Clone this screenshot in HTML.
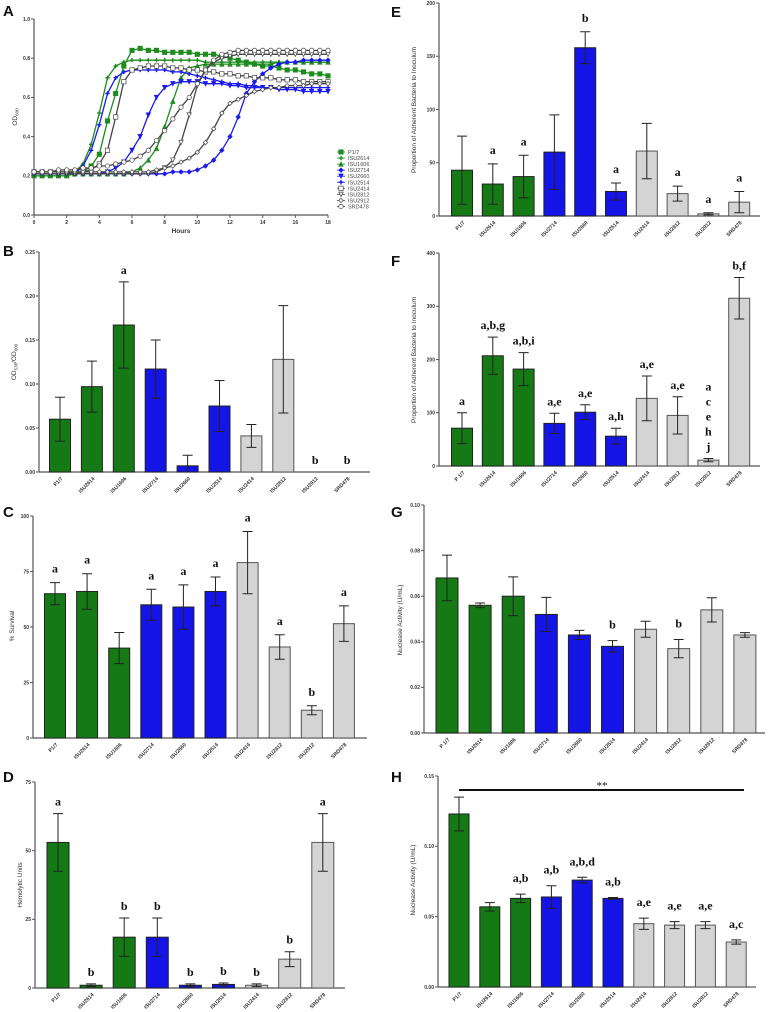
<!DOCTYPE html>
<html><head><meta charset="utf-8"><style>
html,body{margin:0;padding:0;background:#fff;}
svg{display:block;font-family:"Liberation Sans",sans-serif;}
</style></head><body>
<svg id="fig" width="770" height="1012" viewBox="0 0 770 1012" xmlns="http://www.w3.org/2000/svg"></svg>
<script>
// ===== Panel A data (OD600 every 0.5 h, 0..18 h) =====
const hourTicks = [0,2,4,6,8,10,12,14,16,18];
const odTicks = ["0.0","0.2","0.4","0.6","0.8","1.0"];
const seriesNames = ["P1/7","ISU2614","ISU1606","ISU2714","ISU2660","ISU2514","ISU2414","ISU2812","ISU2912","SRD478"];
const sP17 = [.20,.20,.20,.20,.20,.21,.22,.25,.31,.48,.62,.76,.84,.85,.84,.84,.83,.83,.83,.83,.82,.82,.82,.81,.80,.79,.78,.77,.76,.76,.75,.74,.74,.73,.72,.72,.71];
const s2614 = [.21,.21,.21,.21,.21,.22,.26,.36,.52,.70,.76,.78,.79,.79,.79,.79,.79,.79,.79,.79,.79,.78,.78,.78,.78,.78,.78,.78,.78,.78,.78,.78,.78,.78,.78,.78,.78];
const s1606 = [.21,.21,.21,.21,.21,.21,.21,.21,.21,.21,.21,.21,.22,.24,.28,.34,.45,.58,.70,.75,.76,.77,.77,.77,.77,.77,.77,.77,.77,.77,.78,.78,.78,.78,.78,.78,.78];
const s2714 = [.21,.21,.21,.21,.21,.21,.21,.21,.21,.21,.21,.21,.21,.21,.21,.21,.21,.22,.22,.22,.23,.25,.28,.33,.40,.50,.62,.68,.72,.75,.77,.78,.78,.79,.79,.79,.79];
const s2660 = [.21,.21,.21,.21,.21,.21,.21,.21,.21,.22,.24,.27,.33,.40,.51,.60,.65,.67,.68,.68,.68,.67,.67,.67,.66,.66,.65,.65,.65,.65,.64,.64,.64,.63,.63,.63,.63];
const s2514 = [.21,.21,.21,.21,.21,.21,.25,.33,.46,.62,.70,.73,.74,.74,.74,.74,.74,.73,.73,.72,.71,.70,.69,.68,.67,.67,.66,.66,.65,.65,.65,.65,.65,.65,.65,.65,.65];
const s2414 = [.22,.22,.22,.22,.22,.22,.22,.23,.26,.33,.50,.68,.74,.75,.76,.76,.76,.75,.75,.74,.74,.73,.73,.72,.72,.71,.71,.70,.70,.70,.69,.69,.69,.68,.68,.68,.68];
const s2812 = [.21,.21,.21,.21,.21,.21,.21,.21,.21,.21,.21,.21,.21,.21,.21,.22,.24,.28,.37,.51,.66,.74,.78,.80,.81,.82,.82,.82,.82,.82,.82,.82,.82,.82,.82,.82,.82];
const s2912 = [.22,.22,.22,.22,.22,.22,.22,.22,.22,.22,.22,.22,.22,.22,.22,.23,.24,.25,.27,.29,.32,.37,.44,.52,.57,.59,.61,.63,.64,.65,.65,.66,.66,.66,.67,.67,.67];
const sSRD = [.22,.22,.22,.23,.23,.23,.24,.24,.25,.25,.26,.27,.28,.30,.33,.38,.43,.49,.55,.60,.67,.74,.79,.82,.83,.84,.84,.84,.84,.84,.84,.84,.84,.84,.84,.84,.84];

// ===== Bar panel data =====
const cats10 = ["P1/7","ISU2614","ISU1606","ISU2714","ISU2660","ISU2514","ISU2414","ISU2812","ISU2912","SRD478"];
const catsD = ["P1/7","ISU2614","ISU1606","ISU2714","ISU2660","ISU2514","ISU2414","ISU2812","SRD478"];
const catsF = ["P 1/7","ISU2614","ISU1606","ISU2714","ISU2660","ISU2514","ISU2414","ISU2812","ISU2912","SRD478"];
const catsG = ["P 1/7","ISU2614","ISU1606","ISU2714","ISU2660","ISU2514","ISU2414","ISU2812","ISU2912","SRD478"];
const groups10 = ["g","g","g","b","b","b","w","w","w","w"];
const groupsD = ["g","g","g","b","b","b","w","w","w"];

const valsB = [0.060,0.097,0.167,0.117,0.007,0.075,0.041,0.128,0,0];
const errsB = [0.025,0.029,0.049,0.033,0.012,0.029,0.013,0.061,0,0];
const lettersB = ["","","a","","","","","","b","b"];
const ticksB = ["0.00","0.05","0.10","0.15","0.20","0.25"];

const valsC = [65,66,40.5,60,59,66,79,41,12.5,51.5];
const errsC = [5,8,7,7,10,6.5,14,5.5,2,8];
const lettersC = ["a","a","","a","a","a","a","a","b","a"];
const ticksC = ["0","25","50","75","100"];

const valsD = [53,1,18.5,18.5,1,1.3,1,10.5,53];
const errsD = [10.5,0.5,7,7,0.5,0.5,0.5,2.7,10.5];
const lettersD = ["a","b","b","b","b","b","b","b","a"];
const ticksD = ["0","25","50","75"];

const valsE = [43,30,37,60,158,23,61,21,2,13];
const errsE = [32,19,20,35,15,8,26,7,1,10];
const lettersE = ["","a","a","","b","a","","a","a","a"];
const ticksE = ["0","50","100","150","200"];

const valsF = [71,207,182,80,101,56,127,95,11,315];
const errsF = [29,35,31,19,14,15,42,35,3,39];
const lettersF = ["a","a,b,g","a,b,i","a,e","a,e","a,h","a,e","a,e","a|c|e|h|j","b,f"];
const ticksF = ["0","100","200","300","400"];

const valsG = [0.068,0.056,0.060,0.052,0.043,0.038,0.0455,0.037,0.054,0.043];
const errsG = [0.010,0.001,0.0085,0.0075,0.002,0.0025,0.0035,0.004,0.0053,0.001];
const lettersG = ["","","","","","b","","b","",""];
const ticksG = ["0.00","0.02","0.04","0.06","0.08","0.10"];

const valsH = [0.123,0.057,0.063,0.064,0.076,0.063,0.045,0.044,0.044,0.032];
const errsH = [0.012,0.003,0.003,0.008,0.002,0.0006,0.004,0.0025,0.0025,0.0015];
const lettersH = ["","","a,b","a,b","a,b,d","a,b","a,e","a,e","a,e","a,c"];
const ticksH = ["0.00","0.05","0.10","0.15"];

const NS = "http://www.w3.org/2000/svg";
const svg = document.getElementById("fig");
function mk(tag, attrs, parent){
  const e = document.createElementNS(NS, tag);
  for (const k in attrs) e.setAttribute(k, attrs[k]);
  (parent||svg).appendChild(e);
  return e;
}
const COL = {g:"#157a15", b:"#1414e6", w:"#d4d4d4"};
const AXC = "#555";

function panelLetter(t, x, y){
  const e = mk("text",{x:x,y:y,"font-size":15,"font-weight":"bold",fill:"#111"});
  e.textContent = t;
  
  
}
function yTitle(t, x, y, sub){
  const e = mk("text",{transform:`translate(${x},${y}) rotate(-90)`,"text-anchor":"middle","font-size":6.5,fill:"#333"});
  
  
  if (sub){
    sub.forEach(p=>{const ts=mk("tspan",p.s?{"font-size":4.5,dy:p.dy}:{dy:p.dy||0},e); ts.textContent=p.t;});
  } else e.textContent = t;
}

function barPanel(c){
  const g = mk("g",{});
  
  
  const n = c.vals.length;
  const yS = v => c.yBot - (v / c.max) * (c.yBot - c.yTop);
  const xS = i => c.x1 + i * c.dx;
  const ya = mk("line",{x1:c.x0,y1:c.yTop,x2:c.x0,y2:c.yBot,stroke:AXC,"stroke-width":1.2},g);
  
  
  const xa = mk("line",{x1:c.x0,y1:c.yBot,x2:c.xEnd,y2:c.yBot,stroke:AXC,"stroke-width":1.2},g);
  
  
  c.ticks.forEach((t,k)=>{
    const y = c.yBot - k*(c.yBot-c.yTop)/(c.ticks.length-1);
    mk("line",{x1:c.x0-3,y1:y,x2:c.x0,y2:y,stroke:AXC,"stroke-width":1},g);
    const tl = mk("text",{x:c.x0-4,y:y+1.8,"text-anchor":"end","font-size":5,fill:"#333","font-weight":"bold"},g);
    tl.textContent = t;
    
    
  });
  for (let i=0;i<n;i++){
    const cx = xS(i), v = c.vals[i], er = c.errs[i];
    const y = yS(v);
    if (v > 0){
      const r = mk("rect",{x:cx-c.bw/2,y:y,width:c.bw,height:c.yBot-y,fill:COL[c.groups[i]],stroke:c.groups[i]==="w"?"#555":"#222","stroke-width":1},g);
      
      
    }
    if (er > 0){
      const yt = yS(v+er), yb = yS(Math.max(0,v-er));
      const el = mk("path",{d:`M${cx},${yt}V${yb}M${cx-5},${yt}H${cx+5}M${cx-5},${yb}H${cx+5}`,stroke:"#222","stroke-width":1,fill:"none"},g);
      
      
    }
    const L = c.letters[i];
    if (L){
      const base = yS(v+er) - c.lgap;
      const lines = L.split("|");
      lines.forEach((ln,k)=>{
        const lt = mk("text",{x:cx,y:base-(lines.length-1-k)*15,"text-anchor":"middle","font-size":12,"font-weight":"bold","font-family":"Liberation Serif, serif",fill:"#111"},g);
        lt.textContent = ln;
        
        
      });
    }
    const cl = mk("text",{transform:`translate(${cx+3},${c.yBot+7}) rotate(-45)`,"text-anchor":"end","font-size":5.2,fill:"#333","font-weight":"bold"},g);
    cl.textContent = c.cats[i];
    
    
  }
}

// ===== Panel A =====
(function(){
  const x0=34, x1=328, yT=19, yB=215;
  const xS = h => x0 + h/18*(x1-x0);
  const yS = v => yB - v*(yB-yT);
  const g = mk("g",{});
  
  
  const ya = mk("line",{x1:x0,y1:yT,x2:x0,y2:yB,stroke:AXC,"stroke-width":1.2},g);
  
  
  const xa = mk("line",{x1:x0,y1:yB,x2:x1,y2:yB,stroke:AXC,"stroke-width":1.2},g);
  
  
  odTicks.forEach((t,k)=>{
    const y = yS(parseFloat(t));
    mk("line",{x1:x0-3,y1:y,x2:x0,y2:y,stroke:AXC},g);
    const tl = mk("text",{x:x0-4,y:y+1.8,"text-anchor":"end","font-size":5,fill:"#333","font-weight":"bold"},g);
    tl.textContent = t;
    
    
  });
  hourTicks.forEach(h=>{
    const x = xS(h);
    mk("line",{x1:x,y1:yB,x2:x,y2:yB+3,stroke:AXC},g);
    const tl = mk("text",{x:x,y:yB+9,"text-anchor":"middle","font-size":5,fill:"#333","font-weight":"bold"},g);
    tl.textContent = h;
    
    
  });
  const xt = mk("text",{x:181,y:233,"text-anchor":"middle","font-size":6.5,"font-weight":"bold",fill:"#333"},g);
  xt.textContent = "Hours";
  
  
  const all = [sP17,s2614,s1606,s2714,s2660,s2514,s2414,s2812,s2912,sSRD];
  const colors = ["#1c8c1c","#1c8c1c","#1c8c1c","#1a1aee","#1a1aee","#1a1aee","#444","#444","#444","#444"];
  const shapes = ["sq","plus","tri","dia","itri","star","osq","oitri","odia","ocirc"];
  function marker(par, sh, x, y, col){
    const open = sh[0]==="o";
    const fill = open ? "#fff" : col, st = col;
    const s = 2.2;
    let e;
    if (sh.endsWith("sq")) e = mk("rect",{x:x-s,y:y-s,width:2*s,height:2*s,fill,stroke:st,"stroke-width":0.7},par);
    else if (sh==="tri") e = mk("path",{d:`M${x},${y-s}L${x+s},${y+s}L${x-s},${y+s}Z`,fill,stroke:st,"stroke-width":0.7},par);
    else if (sh.endsWith("itri")) e = mk("path",{d:`M${x},${y+s}L${x+s},${y-s}L${x-s},${y-s}Z`,fill,stroke:st,"stroke-width":0.7},par);
    else if (sh.endsWith("dia")) e = mk("path",{d:`M${x},${y-s}L${x+s},${y}L${x},${y+s}L${x-s},${y}Z`,fill,stroke:st,"stroke-width":0.7},par);
    else if (sh==="ocirc") e = mk("circle",{cx:x,cy:y,r:s,fill,stroke:st,"stroke-width":0.7},par);
    else e = mk("path",{d:`M${x-s},${y}H${x+s}M${x},${y-s}V${y+s}`,stroke:st,"stroke-width":1.4,fill:"none"},par);
    return e;
  }
  all.forEach((arr,si)=>{
    const sg = mk("g",{},g);
    
    
    const pts = arr.map((v,i)=>`${xS(i*0.5).toFixed(1)},${yS(v).toFixed(1)}`).join(" ");
    mk("polyline",{points:pts,fill:"none",stroke:colors[si],"stroke-width":1.3},sg);
    arr.forEach((v,i)=>{ marker(sg, shapes[si], xS(i*0.5), yS(v), colors[si]); });
    const ly = 152 + si*6.05;
    const lg = mk("g",{},g);
    
    
    mk("line",{x1:337,y1:ly,x2:345,y2:ly,stroke:colors[si],"stroke-width":0.8},lg);
    marker(lg, shapes[si], 341, ly, colors[si]);
    const lt = mk("text",{x:348,y:ly+2,"font-size":5.5,fill:"#444"},lg);
    lt.textContent = seriesNames[si];
  });
})();
panelLetter("A",3,16);
yTitle("", 17, 117, [{t:"OD"},{t:"600",s:1,dy:1.5}]);

barPanel({id:"b",x0:39,xEnd:370,yTop:252,yBot:472,max:0.25,ticks:ticksB,x1:60,dx:31.9,bw:21,cats:cats10,groups:groups10,vals:valsB,errs:errsB,letters:lettersB,lgap:8});
panelLetter("B",3,256);
yTitle("", 16, 362, [{t:"OD"},{t:"538",s:1,dy:1.5},{t:"/OD",dy:-1.5},{t:"600",s:1,dy:1.5}]);

barPanel({id:"c",x0:33,xEnd:367,yTop:516,yBot:738,max:100,ticks:ticksC,x1:55,dx:32.1,bw:21,cats:cats10,groups:groups10,vals:valsC,errs:errsC,letters:lettersC,lgap:10});
panelLetter("C",3,517);
yTitle("% Survival", 14, 626);

barPanel({id:"d",x0:35,xEnd:345,yTop:782,yBot:988,max:75,ticks:ticksD,x1:58,dx:33.1,bw:22,cats:catsD,groups:groupsD,vals:valsD,errs:errsD,letters:lettersD,lgap:8});
panelLetter("D",3,782);
yTitle("Hemolytic Units", 22, 885);

barPanel({id:"e",x0:439,xEnd:760,yTop:3,yBot:216,max:200,ticks:ticksE,x1:462,dx:30.8,bw:21,cats:cats10,groups:groups10,vals:valsE,errs:errsE,letters:lettersE,lgap:10});
panelLetter("E",391,17);
yTitle("Proportion of Adherent Bacteria to Inoculum", 416, 110);

barPanel({id:"f",x0:439,xEnd:760,yTop:253,yBot:466,max:400,ticks:ticksF,x1:462,dx:30.8,bw:21,cats:catsF,groups:groups10,vals:valsF,errs:errsF,letters:lettersF,lgap:8});
panelLetter("F",391,266);
yTitle("Proportion of Adherent Bacteria to Inoculum", 416, 360);

barPanel({id:"g",x0:424,xEnd:765,yTop:505,yBot:733,max:0.10,ticks:ticksG,x1:447,dx:33.1,bw:22,cats:catsG,groups:groups10,vals:valsG,errs:errsG,letters:lettersG,lgap:12});
panelLetter("G",391,517);
yTitle("Nuclease Activity (U/mL)", 402, 620);

barPanel({id:"h",x0:438,xEnd:756,yTop:776,yBot:987,max:0.15,ticks:ticksH,x1:459,dx:30.8,bw:20,cats:cats10,groups:groups10,vals:valsH,errs:errsH,letters:lettersH,lgap:12});
panelLetter("H",391,782);
yTitle("Nuclease Activity (U/mL)", 415, 880);
const sigLine = mk("line",{x1:459,y1:790,x2:744,y2:790,stroke:"#111","stroke-width":2});


const sigTxt = mk("text",{x:602,y:789,"text-anchor":"middle","font-size":11,"font-family":"Liberation Serif, serif",fill:"#111"});
sigTxt.textContent = "**";


</script>
</body></html>
